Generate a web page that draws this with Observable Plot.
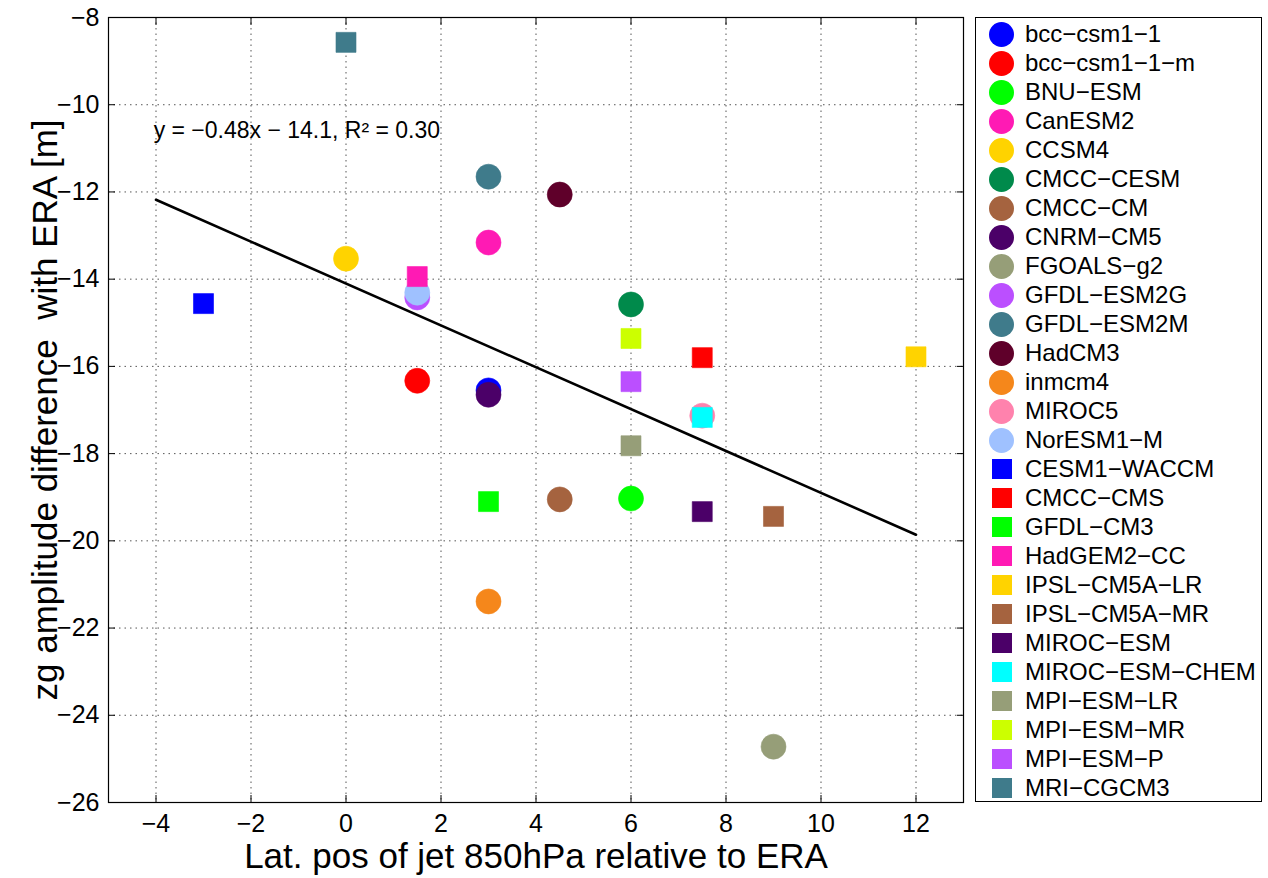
<!DOCTYPE html>
<html>
<head>
<meta charset="utf-8">
<script src="https://cdn.jsdelivr.net/npm/d3@7"></script>
<script src="https://cdn.jsdelivr.net/npm/@observablehq/plot@0.6"></script>
<style>
  body { margin: 0; background: #fff; }
  #wrap { position: relative; width: 1268px; height: 878px; font-family: "Liberation Sans", Arial, sans-serif; }
  #legend { position: absolute; left: 975px; top: 17px; width: 287px; height: 785px; border: 1px solid #000; box-sizing: border-box; background: #fff; }
  .row { position: absolute; left: 0; height: 29px; display: flex; align-items: center; font-size: 24px; color: #000; white-space: nowrap; }
  .mk { position: absolute; }
</style>
</head>
<body>
<div id="wrap"><div id="chart"></div><div id="legend"></div></div>
<script>
// ---- data ----
const models = [
  "bcc-csm1-1","bcc-csm1-1-m","BNU-ESM","CanESM2","CCSM4","CMCC-CESM","CMCC-CM",
  "CNRM-CM5","FGOALS-g2","GFDL-ESM2G","GFDL-ESM2M","HadCM3","inmcm4","MIROC5","NorESM1-M",
  "CESM1-WACCM","CMCC-CMS","GFDL-CM3","HadGEM2-CC","IPSL-CM5A-LR","IPSL-CM5A-MR",
  "MIROC-ESM","MIROC-ESM-CHEM","MPI-ESM-LR","MPI-ESM-MR","MPI-ESM-P","MRI-CGCM3"
];
const markers = [
  "circle","circle","circle","circle","circle","circle","circle",
  "circle","circle","circle","circle","circle","circle","circle","circle",
  "square","square","square","square","square","square",
  "square","square","square","square","square","square"
];
const jetShift = [
  3, 1.5, 6, 3, 0, 6, 4.5,
  3, 9, 1.5, 3, 4.5, 3, 7.5, 1.5,
  -3, 7.5, 3, 1.5, 12, 9,
  7.5, 7.5, 6, 6, 6, 0
];
const ampDiff = [
  -16.55, -16.33, -19.03, -13.16, -13.53, -14.58, -19.05,
  -16.65, -24.72, -14.42, -11.65, -12.06, -21.39, -17.13, -14.31,
  -14.56, -15.80, -19.10, -13.94, -15.78, -19.44,
  -19.33, -17.17, -17.82, -15.36, -16.35, -8.57
];
const palette = [
  "#0000ff","#ff0000","#00ff00","#ff1ab4","#ffd300","#008a4b","#a5633f",
  "#4b0068","#969e78","#bb4fff","#3f7b8b","#5f002a","#f5871b","#ff82ad","#9fc1ff",
  "#0000ff","#ff0000","#00ff00","#ff1ab4","#ffd300","#a5633f",
  "#4b0068","#00ffff","#969e78","#ccff00","#bb4fff","#3f7b8b"
];
const fitX = [-4, 12];
const fitY = [-12.18, -19.86];
const fitLabel = "y = \u22120.48x \u2212 14.1, R\u00b2 = 0.30";
const fitLabelPos = {x: -4.05, y: -10.6};
const xTicks = [-4, -2, 0, 2, 4, 6, 8, 10, 12];
const yTicks = [-26, -24, -22, -20, -18, -16, -14, -12, -10, -8];
const xLabel = "Lat. pos of jet 850hPa relative to ERA";
const yLabel = "zg amplitude difference  with ERA [m]";

const pts = models.map((m, i) => ({model: m, x: jetShift[i], y: ampDiff[i], marker: markers[i], color: palette[i]}));
const fit = fitX.map((x, i) => ({x, y: fitY[i]}));
const minus = s => s.replace(/-/g, "\u2212");

const font = "'Liberation Sans', Arial, sans-serif";
const grid = {strokeDasharray: "1.5,4", stroke: "#444", strokeOpacity: 0.9, strokeWidth: 1};
const noLabel = () => "";

const chart = Plot.plot({
  width: 1268,
  height: 878,
  marginLeft: 108,
  marginRight: 305,
  marginTop: 17,
  marginBottom: 76,
  style: {fontFamily: font, background: "#fff", color: "#000"},
  x: {domain: [-5, 13], label: null},
  y: {domain: [-26, -8], label: null},
  marks: [
    Plot.gridX(xTicks, grid),
    Plot.gridY(yTicks, grid),
    // inward tick marks on all four sides
    Plot.axisX(xTicks, {anchor: "bottom", tickSize: 7, dy: -7, tickFormat: noLabel, label: null, strokeWidth: 1}),
    Plot.axisX(xTicks, {anchor: "top", tickSize: 7, dy: 7, tickFormat: noLabel, label: null, strokeWidth: 1}),
    Plot.axisY(yTicks, {anchor: "left", tickSize: 7, dx: 7, tickFormat: noLabel, label: null, strokeWidth: 1}),
    Plot.axisY(yTicks, {anchor: "right", tickSize: 7, dx: -7, tickFormat: noLabel, label: null, strokeWidth: 1}),
    // tick labels
    Plot.axisX(xTicks, {anchor: "bottom", tickSize: 0, tickPadding: 12, fontSize: 25, label: null}),
    Plot.axisY(yTicks, {anchor: "left", tickSize: 0, tickPadding: 9, fontSize: 25, label: null}),
    Plot.frame({stroke: "#000", strokeWidth: 1.2}),
    Plot.line(fit, {x: "x", y: "y", stroke: "#000", strokeWidth: 2.6}),
    Plot.dot(pts.filter(d => d.marker === "circle"), {x: "x", y: "y", r: 12.5, symbol: "circle", fill: d => d.color, stroke: d => d.color, strokeWidth: 0.6}),
    Plot.dot(pts.filter(d => d.marker === "square"), {x: "x", y: "y", r: 11.3, symbol: "square", fill: d => d.color, stroke: d => d.color, strokeWidth: 0.6}),
    Plot.text([fitLabel], {x: fitLabelPos.x, y: fitLabelPos.y, text: d => d, textAnchor: "start", fontSize: 23, fill: "#000"}),
    Plot.text([xLabel], {frameAnchor: "bottom", dy: 54, text: d => d, textAnchor: "middle", lineAnchor: "middle", fontSize: 35, fill: "#000"}),
    Plot.text([yLabel], {frameAnchor: "left", dx: -63, rotate: -90, text: d => d, textAnchor: "middle", lineAnchor: "middle", fontSize: 35, fill: "#000"})
  ]
});
document.getElementById("chart").appendChild(chart);

// legend
const legend = document.getElementById("legend");
pts.forEach((d, i) => {
  const row = document.createElement("div");
  row.className = "row";
  row.style.top = (1.5 + i * 29) + "px";
  const mk = document.createElement("div");
  mk.className = "mk";
  if (d.marker === "circle") {
    Object.assign(mk.style, {left: "13px", width: "25px", height: "25px", borderRadius: "50%", background: d.color, top: "2px"});
  } else {
    Object.assign(mk.style, {left: "16px", width: "20px", height: "20px", background: d.color, top: "4.5px"});
  }
  row.appendChild(mk);
  const t = document.createElement("span");
  t.textContent = minus(d.model);
  t.style.marginLeft = "49px";
  row.appendChild(t);
  legend.appendChild(row);
});
</script>
</body>
</html>
